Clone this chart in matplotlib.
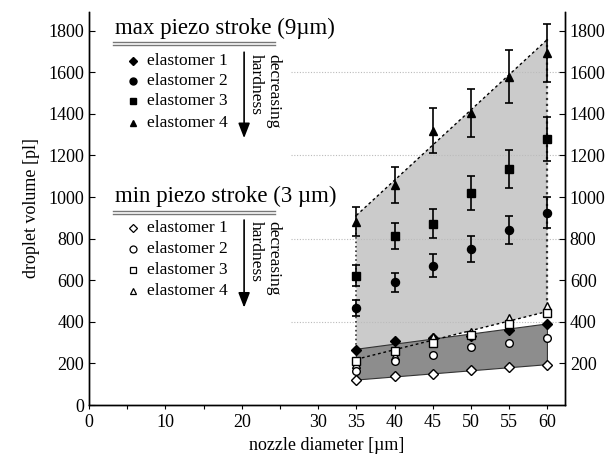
import numpy as np
import matplotlib.pyplot as plt
from matplotlib.patches import Polygon

plt.rcParams['font.family'] = ['Liberation Serif', 'DejaVu Serif']

# nozzle diameters [um]
diam = [35, 40, 45, 50, 55, 60]

# max piezo stroke (9 um), droplet volume [pl]
el1_max = [266, 306, 324, 333, 362, 388]
el2_max = [465, 590, 670, 752, 843, 925]
el3_max = [622, 814, 871, 1020, 1135, 1278]
el4_max = [882, 1058, 1318, 1405, 1578, 1692]
el2_err = [38, 45, 55, 62, 68, 75]
el3_err = [52, 62, 70, 80, 90, 105]
el4_err = [70, 88, 108, 114, 128, 138]

# min piezo stroke (3 um)
el1_min = [120, 141, 151, 167, 184, 194]
el2_min = [163, 210, 242, 277, 300, 320]
el3_min = [213, 262, 296, 338, 390, 442]
el4_min = [198, 236, 328, 352, 418, 476]

# envelope lines drawn in the figure
env_x = [35, 60]
max_top = [912, 1758]
min_top = [220, 450]
band_hi = [268, 390]
band_lo = [120, 194]

xticks = [0, 5, 10, 15, 20, 25, 30, 35, 40, 45, 50, 55, 60]
xlabels = ['0', '', '10', '', '20', '', '30', '35', '40', '45', '50', '55', '60']
grid_y = [400, 800, 1200, 1600]

fig = plt.figure(figsize=(6.09, 4.59), dpi=100)
ax = fig.add_axes([89/609, 1-405/459, (565-89)/609, (405-12)/459])
ax.set_xlim(0, 62.3)
ax.set_ylim(0, 1890)

#shaded regions
light = Polygon([(env_x[0], max_top[0]), (env_x[1], max_top[1]),
                 (env_x[1], min_top[1]), (env_x[0], min_top[0])],
                closed=True, facecolor='#cbcbcb', edgecolor='none', zorder=1)
ax.add_patch(light)
dark = Polygon([(env_x[0], band_lo[0]), (env_x[1], band_lo[1]),
                (env_x[1], band_hi[1]), (env_x[0], band_hi[0])],
               closed=True, facecolor='#8d8d8d', edgecolor='#333333', lw=0.8, zorder=2)
ax.add_patch(dark)
ax.plot(env_x, max_top, color='k', ls=(0, (2, 2)), lw=1.0, zorder=3)
ax.plot(env_x, min_top, color='k', ls=(0, (2, 2)), lw=1.0, zorder=3)
ax.plot([env_x[0]]*2, [max_top[0], band_hi[0]], color='#333333', ls=':', lw=1.2, zorder=3)
ax.plot([env_x[1]]*2, [max_top[1], min_top[1]], color='#333333', ls=':', lw=1.6, zorder=3)

#dotted grid
for gy in grid_y:
    ax.plot([26.5, 62.3], [gy, gy], color='#bbbbbb', ls=(0, (1, 1.5)), lw=0.8, zorder=2.5)

#max stroke data
ek = dict(color='k', capsize=3, elinewidth=1.2, capthick=1.2, zorder=5)
ax.plot(diam, el1_max, 'D', color='k', ms=5.2, zorder=6)
ax.errorbar(diam, el2_max, yerr=el2_err, fmt='o', ms=5.8, **ek)
ax.errorbar(diam, el3_max, yerr=el3_err, fmt='s', ms=5.5, **ek)
ax.errorbar(diam, el4_max, yerr=el4_err, fmt='^', ms=6.2, **ek)

#min stroke data
ok = dict(ls='none', mfc='white', mec='k', mew=1.0, zorder=7)
ax.plot(diam, el4_min, '^', ms=6.2, **ok)
ax.plot(diam, el3_min, 's', ms=5.5, **ok)
ax.plot(diam, el2_min, 'o', ms=5.5, **ok)
ax.plot(diam, el1_min, 'D', ms=5.5, **ok)

#legend blocks
def block(title, y_base, filled, rows_y, arrow_top, arrow_bot):
    ax.text(3.4, y_base, title, fontsize=16.5, va='baseline', ha='left')
    ax.plot([3.1, 24.4], [y_base-40, y_base-40], color='#777777', lw=1.0, clip_on=False)
    ax.plot([3.1, 24.4], [y_base-55, y_base-55], color='#777777', lw=1.0, clip_on=False)
    for i, (m, ry) in enumerate(zip(['D', 'o', 's', '^'], rows_y)):
        if filled:
            ax.plot([5.8], [ry], m, color='k', ms=5 if m != 'D' else 4.5, clip_on=False)
        else:
            ax.plot([5.8], [ry], m, mfc='white', mec='k', mew=0.9,
                    ms=5 if m != 'D' else 4.5, clip_on=False)
        ax.text(7.6, ry, 'elastomer %d' % (i+1), fontsize=12.5, va='center', ha='left')
    ax.annotate('', xy=(20.3, arrow_bot), xytext=(20.3, arrow_top),
                arrowprops=dict(arrowstyle='-|>,head_length=0.9,head_width=0.35',
                                color='k', lw=1.2))
    ax.text(21.8, arrow_top-20, 'hardness', rotation=270, fontsize=12.5, va='top', ha='center')
    ax.text(24.1, arrow_top-20, 'decreasing', rotation=270, fontsize=12.5, va='top', ha='center')

block('max piezo stroke (9µm)', 1784, True, [1655, 1557, 1460, 1358], 1710, 1270)
block('min piezo stroke (3 µm)', 975, False, [852, 751, 650, 549], 903, 455)

#axes styling
ax.spines['top'].set_visible(False)
ax.set_xticks(xticks)
ax.set_xticklabels(xlabels)
ax.set_yticks(np.arange(0, 1801, 200))
ax.tick_params(axis='x', direction='out', length=3, labelsize=13)
ax.tick_params(axis='y', direction='in', length=4, labelsize=13)
ax2 = ax.twinx()
ax2.set_ylim(ax.get_ylim())
ax2.set_yticks(np.arange(200, 1801, 200))
ax2.tick_params(axis='y', direction='in', length=4, labelsize=13)
ax2.spines['top'].set_visible(False)
for a in (ax, ax2):
    for s in a.spines.values():
        s.set_linewidth(1.0)

ax.set_xlabel('nozzle diameter [µm]', fontsize=13, labelpad=4)
ax.set_ylabel('droplet volume [pl]', fontsize=13, labelpad=6)

plt.savefig('out.png', dpi=100)
